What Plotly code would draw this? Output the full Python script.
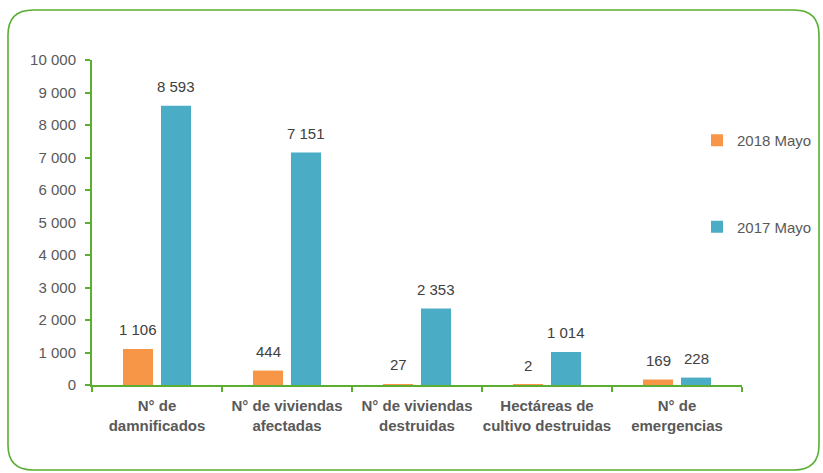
import plotly.graph_objects as go

# === DATA ===
categorias = [
    "N° de<br>damnificados",
    "N° de viviendas<br>afectadas",
    "N° de viviendas<br>destruidas",
    "Hectáreas de<br>cultivo destruidas",
    "N° de<br>emergencias",
]
mayo_2018 = [1106, 444, 27, 2, 169]
mayo_2017 = [8593, 7151, 2353, 1014, 228]
y_ticks = [0, 1000, 2000, 3000, 4000, 5000, 6000, 7000, 8000, 9000, 10000]

# === STYLE ===
FONT = "Liberation Sans, Arial"
ORANGE = "#F79646"
BLUE = "#4BACC6"
GREEN = "#5AAE32"
GRAY = "#595959"

W, H = 823, 473
L, R, T, B = 92, 81, 60, 88
PW, PH = W - L - R, H - T - B


def px2paper(x, y):
    return (x - L) / PW, (H - B - y) / PH


fig = go.Figure()
fig.add_trace(go.Bar(x=categorias, y=mayo_2018, name="2018 Mayo",
                     marker=dict(color=ORANGE, line=dict(width=0)),
                     legendgroup="a"))
fig.add_trace(go.Bar(x=categorias, y=mayo_2017, name="2017 Mayo",
                     marker=dict(color=BLUE, line=dict(width=0)),
                     legendgroup="b"))

# value labels above the bars
for serie, dx in ((mayo_2018, -19), (mayo_2017, 19)):
    for c, v in zip(categorias, serie):
        fig.add_annotation(x=c, y=v, xshift=dx, yshift=9, yanchor="bottom",
                           text=f"{v:,}".replace(",", " "), showarrow=False,
                           font=dict(family=FONT, size=15, color="#404040"))

# rounded green frame
x0, y0 = px2paper(8, 10)
x1, y1 = px2paper(819, 470)
rx, ry = 25 / PW, 25 / PH
path = (f"M {x0 + rx},{y0} L {x1 - rx},{y0} Q {x1},{y0} {x1},{y0 - ry} "
        f"L {x1},{y1 + ry} Q {x1},{y1} {x1 - rx},{y1} "
        f"L {x0 + rx},{y1} Q {x0},{y1} {x0},{y1 + ry} "
        f"L {x0},{y0 - ry} Q {x0},{y0} {x0 + rx},{y0} Z")
fig.add_shape(type="path", path=path, xref="paper", yref="paper",
              line=dict(color=GREEN, width=1.6))

lx, ly = px2paper(697, 124)
fig.update_layout(
    width=W, height=H,
    margin=dict(l=L, r=R, t=T, b=B, autoexpand=False),
    paper_bgcolor="white", plot_bgcolor="white",
    barmode="group", bargap=0.415, bargroupgap=0.21,
    separators=", ",
    font=dict(family=FONT, size=15, color=GRAY),
    showlegend=True,
    legend=dict(x=lx, y=ly, xanchor="left", yanchor="top",
                traceorder="grouped", tracegroupgap=64,
                font=dict(family=FONT, size=15, color=GRAY),
                bgcolor="rgba(0,0,0,0)"),
    xaxis=dict(showline=True, linecolor=GREEN, linewidth=2,
               ticks="outside", tickson="boundaries", ticklen=5,
               tickcolor=GREEN, tickwidth=2, tickangle=0, automargin=False,
               ticklabelstandoff=6,
               tickfont=dict(family=FONT, size=15, color=GRAY, weight="bold"),
               showgrid=False),
    yaxis=dict(range=[0, 10000], tickvals=y_ticks, tickformat=",",
               showline=True, linecolor=GREEN, linewidth=2, automargin=False,
               ticks="outside", ticklen=5, tickcolor=GREEN, tickwidth=2,
               ticklabelstandoff=6,
               tickfont=dict(family=FONT, size=15, color=GRAY),
               showgrid=False, zeroline=False),
)

fig.write_html("out.html", config={"displayModeBar": False},
               post_script="document.body.style.margin='0';")
